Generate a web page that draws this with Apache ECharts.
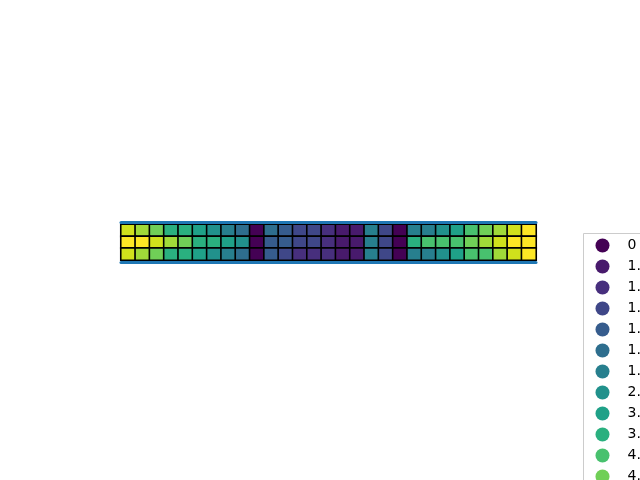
<!DOCTYPE html>
<html>
<head>
<meta charset="utf-8">
<script src="https://cdn.jsdelivr.net/npm/echarts@6/dist/echarts.min.js"></script>
<style>html,body{margin:0;padding:0;background:#fff;}#c{width:640px;height:480px;}</style>
</head>
<body>
<div id="c"></div>
<script>
// columns and rows
var columns = [];
for (var i = 0; i < 29; i++) columns.push(String(i));
var rows = ['top', 'middle', 'bottom'];

// cell values, row by row (top to bottom)
var rowTop    = [5.8,5.2,4.6,3.6,3.6,3.1,2.5,1.9,1.8,0, 1.8,1.6,1.4,1.4,1.2,1.0,1.0,1.9,1.4,0, 1.9,1.9,2.5,3.1,4.1,4.6,5.2,5.8,6.3];
var rowMiddle = [6.3,6.3,5.8,5.2,4.6,3.6,3.6,3.1,2.5,0, 1.6,1.6,1.4,1.4,1.2,1.0,1.0,1.9,1.4,0, 3.6,4.1,4.1,4.1,4.6,5.2,5.8,6.3,6.3];
var rowBottom = [5.8,5.2,4.6,3.6,3.6,3.1,2.5,1.9,1.8,0, 1.6,1.4,1.2,1.2,1.2,1.0,1.0,1.9,1.4,0, 1.9,1.9,2.5,3.1,4.1,4.1,5.2,5.8,6.3];

// legend categories
var levels = [0, 1.0, 1.2, 1.4, 1.6, 1.8, 1.9, 2.5, 3.1, 3.6, 4.1, 4.6, 5.2, 5.8, 6.3];
var levelLabels = ['0','1.0','1.2','1.4','1.6','1.8','1.9','2.5','3.1','3.6','4.1','4.6','5.2','5.8','6.3'];
var levelColors = ['#440154','#481a6c','#472f7d','#3f4788','#365c8d','#2e6e8e','#277f8e','#21918c','#1fa188','#2ab07f','#48c16e','#70cf57','#a0da39','#d0e11c','#fde725'];

var allRows = [rowTop, rowMiddle, rowBottom];
var data = [];
allRows.forEach(function (r, yi) {
  r.forEach(function (v, xi) { data.push([xi, yi, v]); });
});
var pieces = levels.map(function (v, i) {
  return { value: v, label: levelLabels[i], color: levelColors[i] };
});

var chart = echarts.init(document.getElementById('c'), null, { renderer: 'canvas' });
chart.setOption({
  animation: false,
  backgroundColor: '#ffffff',
  grid: { left: 121, top: 224.5, width: 415, height: 35.5, containLabel: false },
  xAxis: [
    { type: 'category', data: columns, position: 'bottom', offset: 2.5, z: 10,
      axisLine: { show: true, lineStyle: { color: '#1f77b4', width: 3 } },
      axisTick: { show: false }, axisLabel: { show: false }, splitLine: { show: false } },
    { type: 'category', data: columns, position: 'top', offset: 2.5, z: 10,
      axisLine: { show: true, lineStyle: { color: '#1f77b4', width: 3 } },
      axisTick: { show: false }, axisLabel: { show: false }, splitLine: { show: false } }
  ],
  yAxis: { type: 'category', data: rows, inverse: true,
    axisLine: { show: false }, axisTick: { show: false }, axisLabel: { show: false }, splitLine: { show: false } },
  visualMap: {
    type: 'piecewise', orient: 'vertical', inverse: true, align: 'left', left: 583, top: 233,
    itemWidth: 14, itemHeight: 14, itemGap: 7, textGap: 18, itemSymbol: 'circle',
    padding: [5, 30, 5, 12], borderColor: '#cccccc', borderWidth: 1, backgroundColor: '#ffffff',
    textStyle: { fontSize: 14, color: '#000000', fontFamily: 'DejaVu Sans' },
    pieces: pieces, seriesIndex: 0, selectedMode: false
  },
  series: [{
    type: 'heatmap', xAxisIndex: 0, yAxisIndex: 0, data: data,
    itemStyle: { borderColor: '#000000', borderWidth: 1.6 },
    emphasis: { disabled: true }
  }]
});
</script>
</body>
</html>
